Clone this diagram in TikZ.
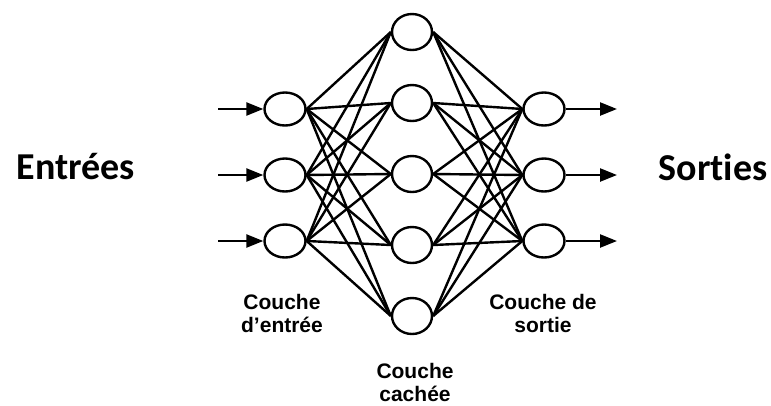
\documentclass[tikz,border=0pt]{standalone}
\usepackage{fontspec}
\setmainfont{Liberation Sans}
\newfontfamily\sidefont[Ligatures=NoCommon]{Carlito}
\usetikzlibrary{shapes.geometric,arrows.meta,positioning}

\begin{document}
\begin{tikzpicture}[x=1pt,y=-1pt,->,>={Triangle[length=17pt,width=13pt]},line width=2.4pt,node distance=71pt,
  main node/.style={ellipse,draw,inner sep=0pt,minimum width=41pt,minimum height=33pt},
  hidden node/.style={ellipse,draw,inner sep=0pt,minimum width=40pt,minimum height=36pt},
  layer label/.style={align=center,font=\fontsize{21}{23}\selectfont\bfseries},
  side label/.style={font=\sidefont\fontsize{38}{40}\selectfont\bfseries}]

                \useasboundingbox (0,0) rectangle (771,405);

                % couche d'entree
                \node[main node]  (i1) at (285,109) {};
                \node[main node]  (i2) [below of = i1, node distance=66pt] {};
                \node[main node]  (i3) [below of = i2, node distance=66pt] {};

                % couche cachee
                \node[hidden node]  (h1) at (412,32) {};
                \node[hidden node]  (h2) [below of = h1] {};
                \node[hidden node]  (h3) [below of = h2] {};
                \node[hidden node]  (h4) [below of = h3] {};
                \node[hidden node]  (h5) [below of = h4] {};

                % couche de sortie
                \node[main node]  (o1) at (544,109) {};
                \node[main node]  (o2) [below of = o1, node distance=66pt] {};
                \node[main node]  (o3) [below of = o2, node distance=66pt] {};

                \coordinate (e1) at (218,109);
                \coordinate (e2) at (218,175);
                \coordinate (e3) at (218,241);
                \coordinate (s1) at (617,109);
                \coordinate (s2) at (617,175);
                \coordinate (s3) at (617,241);

                \node[side label]  (entrees) at (76,167) {Entrées};
                \node[side label]  (sorties) at (713,167) {Sorties};
                \node[layer label]  (lin) at (282,313) {Couche\\d’entrée};
                \node[layer label]  (lhid) at (415,382) {Couche\\cachée};
                \node[layer label]  (lout) at (543,313) {Couche de\\sortie};

                \path

                (e1) edge (i1)
                (e2) edge (i2)
                (e3) edge (i3)
                (o1) edge (s1)
                (o2) edge (s2)
                (o3) edge (s3)
            ;

                \path[-]

                (i1.east) edge (h1.west)
                (i1.east) edge (h2.west)
                (i1.east) edge (h3.west)
                (i1.east) edge (h4.west)
                (i1.east) edge (h5.west)
                (i2.east) edge (h1.west)
                (i2.east) edge (h2.west)
                (i2.east) edge (h3.west)
                (i2.east) edge (h4.west)
                (i2.east) edge (h5.west)
                (i3.east) edge (h1.west)
                (i3.east) edge (h2.west)
                (i3.east) edge (h3.west)
                (i3.east) edge (h4.west)
                (i3.east) edge (h5.west)

                (h1.east) edge (o1.west)
                (h1.east) edge (o2.west)
                (h1.east) edge (o3.west)
                (h2.east) edge (o1.west)
                (h2.east) edge (o2.west)
                (h2.east) edge (o3.west)
                (h3.east) edge (o1.west)
                (h3.east) edge (o2.west)
                (h3.east) edge (o3.west)
                (h4.east) edge (o1.west)
                (h4.east) edge (o2.west)
                (h4.east) edge (o3.west)
                (h5.east) edge (o1.west)
                (h5.east) edge (o2.west)
                (h5.east) edge (o3.west)
            ;
            \end{tikzpicture}
\end{document}
